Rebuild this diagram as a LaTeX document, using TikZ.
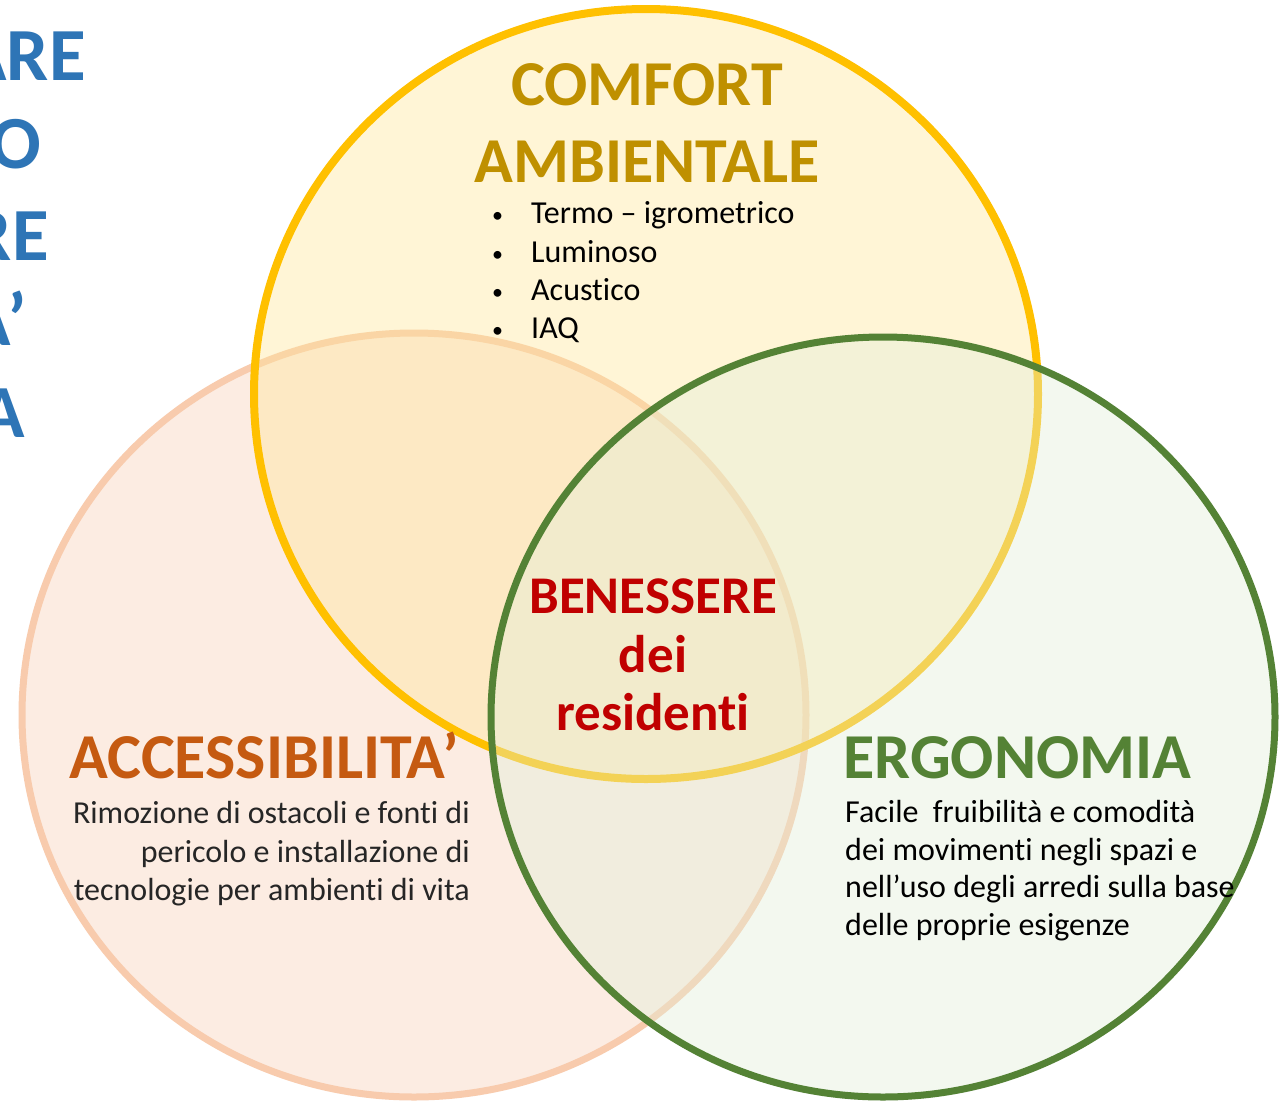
\documentclass[tikz,border=0pt]{standalone}
\usepackage{fontspec}
\setmainfont{Carlito}[RawFeature={-liga}]
\definecolor{yelStroke}{HTML}{FFC000}
\definecolor{yelFill}{HTML}{FFE699}
\definecolor{peaStroke}{HTML}{F8CBAD}
\definecolor{peaFill}{HTML}{F8CBAD}
\definecolor{grnStroke}{HTML}{548235}
\definecolor{grnFill}{HTML}{E2EFD9}
\definecolor{comfortCol}{HTML}{BF9000}
\definecolor{benCol}{HTML}{C00000}
\definecolor{accCol}{HTML}{C55A11}
\definecolor{ergCol}{HTML}{548235}
\definecolor{blueCol}{HTML}{2E75B6}
\definecolor{darkTxt}{HTML}{262626}
\tikzset{
  bigtitle/.style={font=\bfseries\fontsize{64}{77}\selectfont, inner sep=0pt, anchor=base},
  bentitle/.style={font=\bfseries\fontsize{53}{58}\selectfont, text=benCol, inner sep=0pt, anchor=base},
  bulletline/.style={font=\fontsize{32}{38}\selectfont, inner sep=0pt, anchor=base west, text=black},
  descline/.style={font=\fontsize{32}{38}\selectfont, inner sep=0pt},
  sidetext/.style={font=\bfseries\fontsize{75}{88}\selectfont, text=blueCol, inner sep=0pt, anchor=base east},
}
\newcommand{\smallbul}{\makebox[39pt][l]{\fontsize{22}{22}\selectfont\raisebox{1pt}{•}}}
\begin{document}
\begin{tikzpicture}[x=1pt,y=-1pt]
\useasboundingbox (0,0) rectangle (1280,1101);
\clip (0,0) rectangle (1280,1101);
\fill[white] (0,0) rectangle (1280,1101);
% circles
\draw[line width=7pt, draw=peaStroke, fill=peaFill, fill opacity=0.35] (414,715) ellipse [x radius=392, y radius=382];
\draw[line width=8pt, draw=yelStroke, fill=yelFill, fill opacity=0.4] (646,394) ellipse [x radius=392, y radius=385];
\draw[line width=7pt, draw=grnStroke, fill=grnFill, fill opacity=0.4] (883,717) ellipse [x radius=392, y radius=380];
% cut-off side title
\node[sidetext] (s1) at (86,80) {ARE};
\node[sidetext] (s2) at (41,168) {O};
\node[sidetext] (s3) at (49,260) {RE};
\node[sidetext] (s4) at (27,345) {A’};
\node[sidetext] (s5) at (25,437) {A};
% comfort
\node[bigtitle, text=comfortCol] (c1) at (647,105) {COMFORT};
\node[bigtitle, text=comfortCol] (c2) at (647,182) {AMBIENTALE};
\node[bulletline] (b1) at (492,223) {\smallbul Termo – igrometrico};
\node[bulletline] (b2) at (492,262) {\smallbul Luminoso};
\node[bulletline] (b3) at (492,300) {\smallbul Acustico};
\node[bulletline] (b4) at (492,338) {\smallbul IAQ};
% benessere
\node[bentitle] (w1) at (653,613) {BENESSERE};
\node[bentitle] (w2) at (653,672) {dei};
\node[bentitle] (w3) at (653,730) {residenti};
% accessibilita
\node[bigtitle, text=accCol, anchor=base west] (a0) at (69,778) {ACCESSIBILITA’};
\node[descline, text=darkTxt, anchor=base east] (a1) at (470,823) {Rimozione di ostacoli e fonti di};
\node[descline, text=darkTxt, anchor=base east] (a2) at (470,862) {pericolo e installazione di};
\node[descline, text=darkTxt, anchor=base east] (a3) at (470,900) {tecnologie per ambienti di vita};
% ergonomia
\node[bigtitle, text=ergCol, anchor=base west] (e0) at (843,778) {ERGONOMIA};
\node[descline, text=black, anchor=base west] (e1) at (845,822) {Facile\ \ fruibilità e comodità};
\node[descline, text=black, anchor=base west] (e2) at (845,860) {dei movimenti negli spazi e};
\node[descline, text=black, anchor=base west] (e3) at (845,897) {nell’uso degli arredi sulla base};
\node[descline, text=black, anchor=base west] (e4) at (845,935) {delle proprie esigenze};
\end{tikzpicture}
\end{document}
